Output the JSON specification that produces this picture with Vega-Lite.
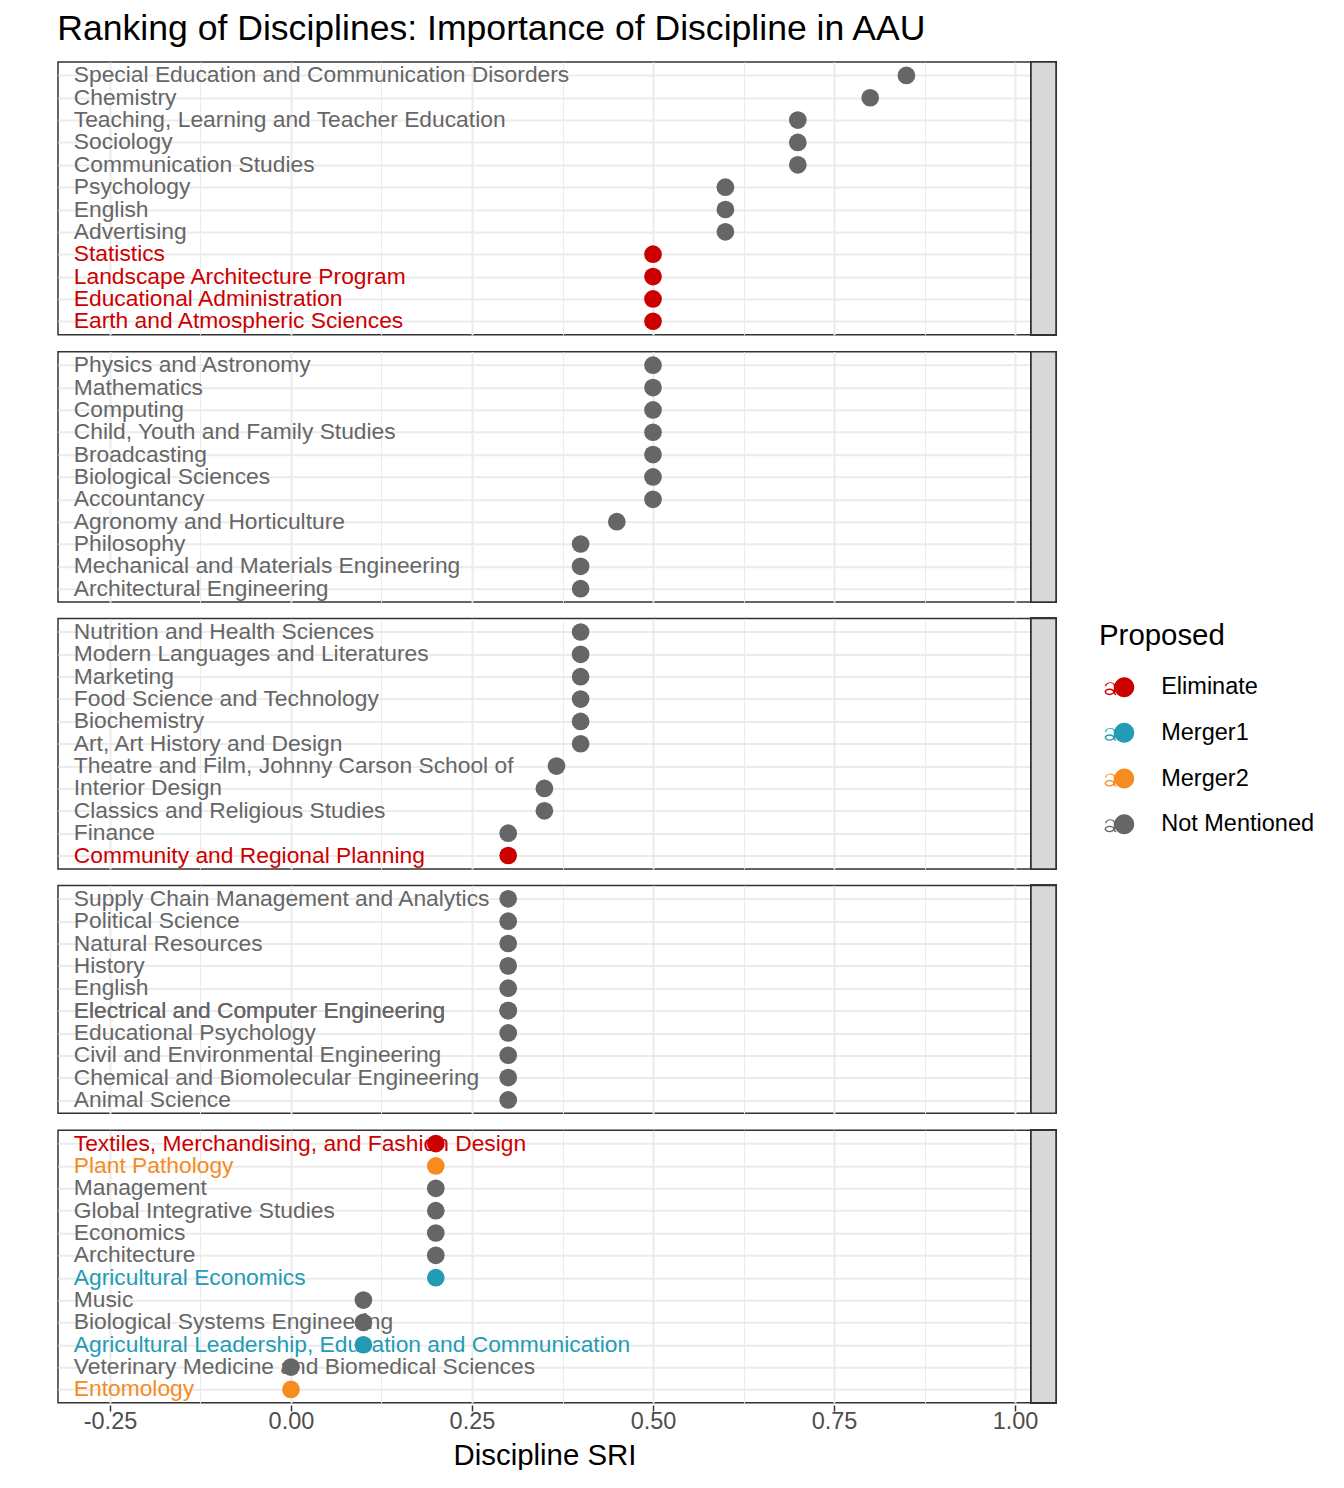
{
  "$schema": "https://vega.github.io/schema/vega-lite/v6.json",
  "background": "white",
  "padding": {"left": 57, "top": 11, "right": 0, "bottom": 0},
  "title": {
    "text": "Ranking of Disciplines: Importance of Discipline in AAU",
    "anchor": "start",
    "fontSize": 35.6,
    "font": "Liberation Sans",
    "fontWeight": "normal",
    "color": "black",
    "offset": 13.4
  },
  "data": {
    "values": [
      {"panel": 1, "rank": 1, "name": "Special Education and Communication Disorders", "sri": 0.85, "proposed": "Not Mentioned"},
      {"panel": 1, "rank": 2, "name": "Chemistry", "sri": 0.8, "proposed": "Not Mentioned"},
      {"panel": 1, "rank": 3, "name": "Teaching, Learning and Teacher Education", "sri": 0.7, "proposed": "Not Mentioned"},
      {"panel": 1, "rank": 4, "name": "Sociology", "sri": 0.7, "proposed": "Not Mentioned"},
      {"panel": 1, "rank": 5, "name": "Communication Studies", "sri": 0.7, "proposed": "Not Mentioned"},
      {"panel": 1, "rank": 6, "name": "Psychology", "sri": 0.6, "proposed": "Not Mentioned"},
      {"panel": 1, "rank": 7, "name": "English", "sri": 0.6, "proposed": "Not Mentioned"},
      {"panel": 1, "rank": 8, "name": "Advertising", "sri": 0.6, "proposed": "Not Mentioned"},
      {"panel": 1, "rank": 9, "name": "Statistics", "sri": 0.5, "proposed": "Eliminate"},
      {"panel": 1, "rank": 10, "name": "Landscape Architecture Program", "sri": 0.5, "proposed": "Eliminate"},
      {"panel": 1, "rank": 11, "name": "Educational Administration", "sri": 0.5, "proposed": "Eliminate"},
      {"panel": 1, "rank": 12, "name": "Earth and Atmospheric Sciences", "sri": 0.5, "proposed": "Eliminate"},
      {"panel": 2, "rank": 1, "name": "Physics and Astronomy", "sri": 0.5, "proposed": "Not Mentioned"},
      {"panel": 2, "rank": 2, "name": "Mathematics", "sri": 0.5, "proposed": "Not Mentioned"},
      {"panel": 2, "rank": 3, "name": "Computing", "sri": 0.5, "proposed": "Not Mentioned"},
      {"panel": 2, "rank": 4, "name": "Child, Youth and Family Studies", "sri": 0.5, "proposed": "Not Mentioned"},
      {"panel": 2, "rank": 5, "name": "Broadcasting", "sri": 0.5, "proposed": "Not Mentioned"},
      {"panel": 2, "rank": 6, "name": "Biological Sciences", "sri": 0.5, "proposed": "Not Mentioned"},
      {"panel": 2, "rank": 7, "name": "Accountancy", "sri": 0.5, "proposed": "Not Mentioned"},
      {"panel": 2, "rank": 8, "name": "Agronomy and Horticulture", "sri": 0.45, "proposed": "Not Mentioned"},
      {"panel": 2, "rank": 9, "name": "Philosophy", "sri": 0.4, "proposed": "Not Mentioned"},
      {"panel": 2, "rank": 10, "name": "Mechanical and Materials Engineering", "sri": 0.4, "proposed": "Not Mentioned"},
      {"panel": 2, "rank": 11, "name": "Architectural Engineering", "sri": 0.4, "proposed": "Not Mentioned"},
      {"panel": 3, "rank": 1, "name": "Nutrition and Health Sciences", "sri": 0.4, "proposed": "Not Mentioned"},
      {"panel": 3, "rank": 2, "name": "Modern Languages and Literatures", "sri": 0.4, "proposed": "Not Mentioned"},
      {"panel": 3, "rank": 3, "name": "Marketing", "sri": 0.4, "proposed": "Not Mentioned"},
      {"panel": 3, "rank": 4, "name": "Food Science and Technology", "sri": 0.4, "proposed": "Not Mentioned"},
      {"panel": 3, "rank": 5, "name": "Biochemistry", "sri": 0.4, "proposed": "Not Mentioned"},
      {"panel": 3, "rank": 6, "name": "Art, Art History and Design", "sri": 0.4, "proposed": "Not Mentioned"},
      {"panel": 3, "rank": 7, "name": "Theatre and Film, Johnny Carson School of", "sri": 0.3667, "proposed": "Not Mentioned"},
      {"panel": 3, "rank": 8, "name": "Interior Design", "sri": 0.35, "proposed": "Not Mentioned"},
      {"panel": 3, "rank": 9, "name": "Classics and Religious Studies", "sri": 0.35, "proposed": "Not Mentioned"},
      {"panel": 3, "rank": 10, "name": "Finance", "sri": 0.3, "proposed": "Not Mentioned"},
      {"panel": 3, "rank": 11, "name": "Community and Regional Planning", "sri": 0.3, "proposed": "Eliminate"},
      {"panel": 4, "rank": 1, "name": "Supply Chain Management and Analytics", "sri": 0.3, "proposed": "Not Mentioned"},
      {"panel": 4, "rank": 2, "name": "Political Science", "sri": 0.3, "proposed": "Not Mentioned"},
      {"panel": 4, "rank": 3, "name": "Natural Resources", "sri": 0.3, "proposed": "Not Mentioned"},
      {"panel": 4, "rank": 4, "name": "History", "sri": 0.3, "proposed": "Not Mentioned"},
      {"panel": 4, "rank": 5, "name": "English", "sri": 0.3, "proposed": "Not Mentioned"},
      {"panel": 4, "rank": 6, "name": "Electrical and Computer Engineering", "sri": 0.3, "proposed": "Not Mentioned"},
      {"panel": 4, "rank": 6, "name": "Electrical and Computer Engineering", "sri": 0.3, "proposed": "Not Mentioned"},
      {"panel": 4, "rank": 7, "name": "Educational Psychology", "sri": 0.3, "proposed": "Not Mentioned"},
      {"panel": 4, "rank": 8, "name": "Civil and Environmental Engineering", "sri": 0.3, "proposed": "Not Mentioned"},
      {"panel": 4, "rank": 9, "name": "Chemical and Biomolecular Engineering", "sri": 0.3, "proposed": "Not Mentioned"},
      {"panel": 4, "rank": 10, "name": "Animal Science", "sri": 0.3, "proposed": "Not Mentioned"},
      {"panel": 5, "rank": 1, "name": "Textiles, Merchandising, and Fashion Design", "sri": 0.2, "proposed": "Eliminate"},
      {"panel": 5, "rank": 2, "name": "Plant Pathology", "sri": 0.2, "proposed": "Merger2"},
      {"panel": 5, "rank": 3, "name": "Management", "sri": 0.2, "proposed": "Not Mentioned"},
      {"panel": 5, "rank": 4, "name": "Global Integrative Studies", "sri": 0.2, "proposed": "Not Mentioned"},
      {"panel": 5, "rank": 5, "name": "Economics", "sri": 0.2, "proposed": "Not Mentioned"},
      {"panel": 5, "rank": 6, "name": "Architecture", "sri": 0.2, "proposed": "Not Mentioned"},
      {"panel": 5, "rank": 7, "name": "Agricultural Economics", "sri": 0.2, "proposed": "Merger1"},
      {"panel": 5, "rank": 8, "name": "Music", "sri": 0.1, "proposed": "Not Mentioned"},
      {"panel": 5, "rank": 9, "name": "Biological Systems Engineering", "sri": 0.1, "proposed": "Not Mentioned"},
      {"panel": 5, "rank": 10, "name": "Agricultural Leadership, Education and Communication", "sri": 0.1, "proposed": "Merger1"},
      {"panel": 5, "rank": 11, "name": "Veterinary Medicine and Biomedical Sciences", "sri": 0.0, "proposed": "Not Mentioned"},
      {"panel": 5, "rank": 12, "name": "Entomology", "sri": 0.0, "proposed": "Merger2"}
    ]
  },
  "facet": {
    "row": {"field": "panel", "type": "ordinal", "title": null, "header": {"labels": false, "title": null, "labelPadding": 0, "titlePadding": 0}}
  },
  "spacing": {"row": 12.8},
  "resolve": {"scale": {"y": "independent"}},
  "spec": {
    "width": 998,
    "height": {"step": 22.35},
    "layer": [
      {
        "mark": {"type": "rect", "fill": "#D9D9D9", "stroke": "#333333", "strokeWidth": 1.5},
        "encoding": {
          "x": {
            "datum": 1.0221,
            "type": "quantitative",
            "scale": {"domain": [-0.3218, 1.0566], "nice": false, "zero": false},
            "axis": {
              "values": [-0.25, -0.125, 0, 0.125, 0.25, 0.375, 0.5, 0.625, 0.75, 0.875, 1.0],
              "labelExpr": "abs(datum.value*4 - round(datum.value*4)) > 0.01 ? '' : (datum.value < 0 ? '-' + format(-datum.value, '.2f') : format(datum.value, '.2f'))",
              "grid": true,
              "gridColor": "#EBEBEB",
              "gridWidth": {"condition": {"test": "abs(datum.value*4 - round(datum.value*4)) > 0.01", "value": 1}, "value": 2},
              "tickOpacity": {"condition": {"test": "abs(datum.value*4 - round(datum.value*4)) > 0.01", "value": 0}, "value": 1},
              "domain": false,
              "tickColor": "#333333",
              "tickWidth": 1.5,
              "tickSize": 6,
              "labelFont": "Liberation Sans",
              "labelFontSize": 23.5,
              "labelColor": "#4D4D4D",
              "labelPadding": -2,
              "title": "Discipline SRI",
              "titleFont": "Liberation Sans",
              "titleFontSize": 29.4,
              "titleFontWeight": "normal",
              "titleColor": "black",
              "titleX": 486.5,
              "titleAlign": "center",
              "titlePadding": 9
            }
          },
          "x2": {"datum": 1.0566}
        }
      },
      {
        "mark": {"type": "text", "align": "left", "baseline": "middle", "font": "Liberation Sans", "fontSize": 22.8},
        "encoding": {
          "x": {"datum": -0.3, "type": "quantitative"},
          "y": {
            "field": "name",
            "type": "nominal",
            "sort": {"field": "rank", "op": "min", "order": "ascending"},
            "scale": {"padding": 0.6},
            "axis": {"labels": false, "ticks": false, "domain": false, "title": null, "grid": true, "gridColor": "#EBEBEB", "gridWidth": 2, "minExtent": 0, "maxExtent": 0}
          },
          "text": {"field": "name"},
          "color": {
            "field": "proposed",
            "type": "nominal",
            "scale": {"domain": ["Eliminate", "Merger1", "Merger2", "Not Mentioned"], "range": ["#CC0000", "#239BB5", "#F68B1F", "#666666"]}
          }
        }
      },
      {
        "mark": {"type": "point", "filled": true, "opacity": 1, "shape": "circle", "size": 314},
        "encoding": {
          "x": {"field": "sri", "type": "quantitative"},
          "y": {
            "field": "name",
            "type": "nominal",
            "sort": {"field": "rank", "op": "min", "order": "ascending"}
          },
          "color": {
            "field": "proposed",
            "type": "nominal",
            "legend": {
              "orient": "none",
              "legendX": 1041,
              "legendY": 560,
              "title": "Proposed",
              "titleFont": "Liberation Sans",
              "titleFontSize": 29.4,
              "titleFontWeight": "normal",
              "titleColor": "black",
              "titlePadding": 24,
              "labelFont": "Liberation Sans",
              "labelFontSize": 23.5,
              "labelColor": "black",
              "labelOffset": 25.2,
              "symbolType": "M 1 0 A 1 1 0 1 1 -1 0 A 1 1 0 1 1 1 0 Z M -1.92 -0.12 A 0.52 0.4 0 0 1 -0.9 -0.2 L -1.05 -0.2 A 0.36 0.26 0 0 0 -1.77 -0.08 Z M -1.05 -0.2 L -0.9 -0.2 L -0.9 0.62 Q -0.9 0.68 -0.8 0.68 L -0.8 0.8 Q -1.05 0.82 -1.05 0.62 Z M -1.97 0.47 A 0.5 0.33 0 1 1 -0.97 0.47 A 0.5 0.33 0 1 1 -1.97 0.47 Z M -1.82 0.47 A 0.35 0.19 0 1 0 -1.12 0.47 A 0.35 0.19 0 1 0 -1.82 0.47 Z",
              "symbolSize": 400,
              "symbolOpacity": 1,
              "symbolStrokeWidth": 0,
              "symbolOffset": 13.5,
              "rowPadding": 20.7
            }
          }
        }
      }
    ]
  },
  "config": {
    "view": {"stroke": "#333333", "strokeWidth": 1.5},
    "font": "Liberation Sans"
  }
}
